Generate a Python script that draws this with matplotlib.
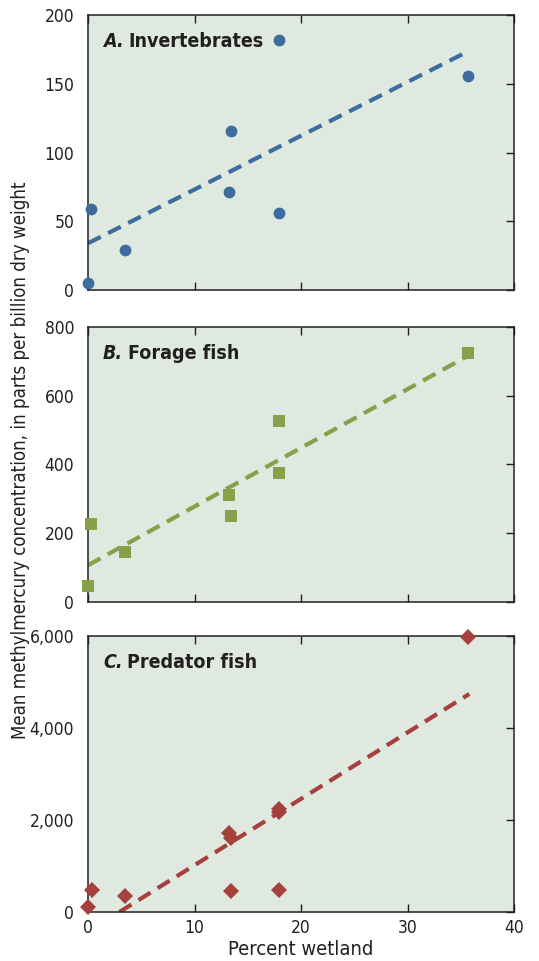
import numpy as np
import matplotlib
matplotlib.use("Agg")
import matplotlib.pyplot as plt

plt.rcParams['font.family'] = ['DejaVu Sans']
plt.rcParams['font.stretch'] = 'condensed'

############################################################ DATA
# percent wetland and mean MeHg for each group
inv_x = [0.0, 0.3, 3.5, 13.4, 13.2, 17.9, 17.9, 35.7]
inv_y = [5, 59, 29, 116, 71, 182, 56, 156]
inv_fit_x = [0.0, 35.8]
inv_fit_y = [34, 174]

forage_x = [0.0, 0.3, 3.5, 13.2, 13.4, 17.9, 17.9, 35.7]
forage_y = [47, 227, 144, 312, 250, 526, 375, 724]
forage_fit_x = [0.0, 35.8]
forage_fit_y = [107, 718]

pred_x = [0.0, 0.4, 3.5, 13.2, 13.4, 13.4, 17.9, 17.9, 17.9, 35.7]
pred_y = [108, 470, 355, 1715, 1606, 449, 2236, 2164, 470, 5970]
pred_fit_x = [2.95, 35.8]
pred_fit_y = [0, 4740]

yticks_a = [0, 50, 100, 150, 200]
yticks_b = [0, 200, 400, 600, 800]
yticks_c = [0, 2000, 4000, 6000]
ytick_labels_c = ['0', '2,000', '4,000', '6,000']
xticks = [0, 10, 20, 30, 40]

############################################################ PLOT
bg = '#dfe9e0'
ink = '#231f20'
fig = plt.figure(figsize=(5.39, 9.61), dpi=100)

panels = [
    # (bottom, height, x, y, fitx, fity, color, marker, size, ticks, ticklabels, letter, name, name offset)
    (0.6982, 0.2862, inv_x, inv_y, inv_fit_x, inv_fit_y, '#3d6d9f', 'o', 8.5, yticks_a, None, 'A.', 'Invertebrates', 0.059),
    (0.3736, 0.2862, forage_x, forage_y, forage_fit_x, forage_fit_y, '#87a04a', 's', 8.5, yticks_b, None, 'B.', 'Forage fish', 0.059),
    (0.0510, 0.2872, pred_x, pred_y, pred_fit_x, pred_fit_y, '#a5403c', 'D', 8.5, yticks_c, ytick_labels_c, 'C.', 'Predator fish', 0.056),
]

axes = []
for (b, h, x, y, fx, fy, col, mk, ms, yt, ytl, letter, name, off) in panels:
    ax = fig.add_axes([0.1633, b, 0.7904, h])
    ax.set_facecolor(bg)
    ax.plot(fx, fy, linestyle=(0, (3.4, 2.0)), color=col, linewidth=3.0, zorder=2)
    ax.plot(x, y, linestyle='none', marker=mk, color=col, markersize=ms,
            markeredgewidth=0, zorder=3, clip_on=False)
    ax.set_xlim(0, 40)
    ax.set_ylim(yt[0], yt[-1])
    ax.set_xticks(xticks)
    ax.set_yticks(yt)
    if ytl is not None:
        ax.set_yticklabels(ytl)
    ax.tick_params(axis='both', direction='in', labelsize=12.5, length=6, width=1,
                   top=True, right=True, left=False, colors=ink)
    ax.tick_params(axis='y', pad=10)
    ax.tick_params(axis='x', pad=5)
    for s in ax.spines.values():
        s.set_linewidth(1.1)
        s.set_color(ink)
    ax.text(0.035, 0.905, letter, transform=ax.transAxes, fontsize=14,
            fontweight='bold', fontstyle='italic', color=ink, va='center')
    ax.text(0.035 + off, 0.905, name, transform=ax.transAxes, fontsize=14,
            fontweight='bold', color=ink, va='center')
    axes.append(ax)

axes[0].set_xticklabels([])
axes[1].set_xticklabels([])
axes[2].set_xlabel('Percent wetland', fontsize=14.5, color=ink, labelpad=2)

fig.text(0.038, 0.521, 'Mean methylmercury concentration, in parts per billion dry weight',
         rotation=90, fontsize=13.4, color=ink, ha='center', va='center')

plt.savefig('out.png', dpi=100)
